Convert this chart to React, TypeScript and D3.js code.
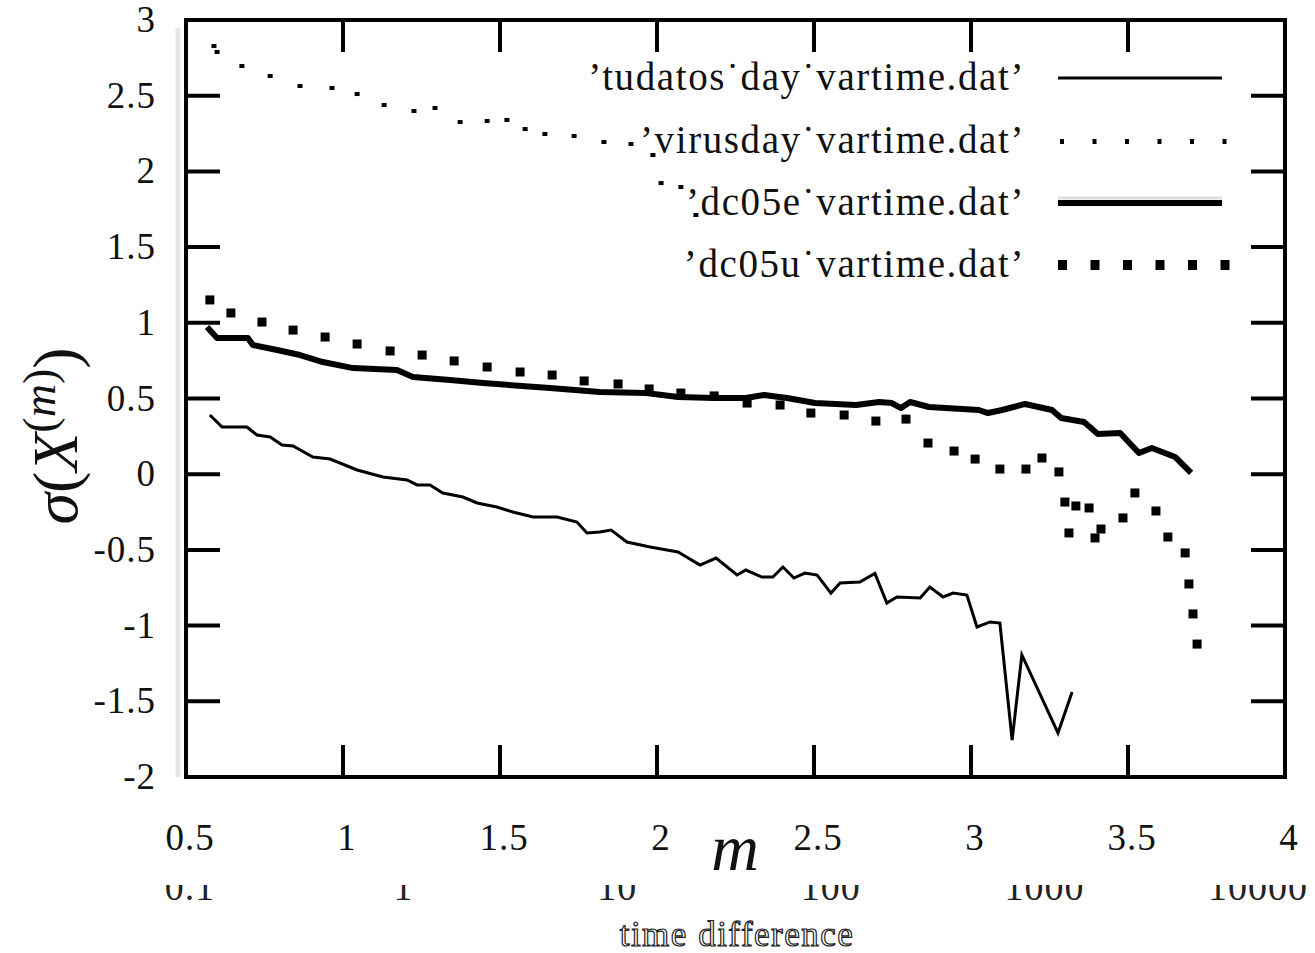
import * as d3 from 'd3';

// series values: [log10 m, sigma]
const tudatos: [number, number][] = [
  [0.576, 0.391], [0.615, 0.312], [0.694, 0.312], [0.726, 0.259], [0.768, 0.246],
  [0.806, 0.193], [0.841, 0.186], [0.904, 0.114], [0.959, 0.1], [1.045, 0.028],
  [1.127, -0.018], [1.204, -0.038], [1.236, -0.071], [1.277, -0.071], [1.318, -0.124],
  [1.382, -0.151], [1.427, -0.19], [1.49, -0.217], [1.541, -0.25], [1.605, -0.283],
  [1.682, -0.283], [1.745, -0.316], [1.777, -0.388], [1.818, -0.382], [1.854, -0.369],
  [1.904, -0.448], [1.978, -0.481], [2.067, -0.514], [2.137, -0.6], [2.188, -0.554],
  [2.255, -0.666], [2.283, -0.633], [2.334, -0.679], [2.369, -0.679], [2.401, -0.613],
  [2.436, -0.686], [2.471, -0.653], [2.51, -0.666], [2.554, -0.785], [2.583, -0.719],
  [2.646, -0.712], [2.694, -0.655], [2.732, -0.851], [2.764, -0.811], [2.838, -0.818],
  [2.869, -0.745], [2.911, -0.811], [2.943, -0.785], [2.987, -0.798], [3.019, -1.009],
  [3.061, -0.976], [3.092, -0.983], [3.131, -1.756], [3.162, -1.194], [3.277, -1.709],
  [3.322, -1.439],
];

const virusday: [number, number][] = [
  [0.589, 2.828], [0.599, 2.789], [0.678, 2.696], [0.768, 2.63], [0.863, 2.564],
  [0.965, 2.551], [1.045, 2.511], [1.131, 2.439], [1.226, 2.399], [1.293, 2.419],
  [1.373, 2.326], [1.459, 2.333], [1.522, 2.34], [1.58, 2.28], [1.643, 2.247],
  [1.736, 2.234], [1.831, 2.194], [1.917, 2.181], [1.987, 2.108], [2.013, 1.923],
  [2.076, 1.897], [2.124, 1.712],
];

const dc05e: [number, number][] = [
  [0.567, 0.972], [0.599, 0.9], [0.697, 0.9], [0.713, 0.853], [0.79, 0.82],
  [0.863, 0.787], [0.936, 0.741], [1.032, 0.701], [1.172, 0.688], [1.223, 0.642],
  [1.341, 0.622], [1.446, 0.602], [1.659, 0.569], [1.818, 0.543], [1.965, 0.536],
  [2.067, 0.51], [2.182, 0.503], [2.283, 0.503], [2.341, 0.523], [2.414, 0.503],
  [2.503, 0.47], [2.634, 0.457], [2.707, 0.477], [2.748, 0.47], [2.777, 0.437],
  [2.806, 0.477], [2.866, 0.444], [3.025, 0.424], [3.054, 0.404], [3.099, 0.424],
  [3.172, 0.464], [3.258, 0.424], [3.287, 0.371], [3.36, 0.345], [3.404, 0.266],
  [3.475, 0.272], [3.535, 0.14], [3.576, 0.173], [3.65, 0.114], [3.701, 0.008],
];

const dc05u: [number, number][] = [
  [0.576, 1.151], [0.643, 1.065], [0.742, 1.005], [0.841, 0.952], [0.943, 0.906],
  [1.045, 0.86], [1.15, 0.814], [1.252, 0.787], [1.354, 0.748], [1.459, 0.708],
  [1.564, 0.675], [1.666, 0.655], [1.768, 0.616], [1.876, 0.596], [1.975, 0.563],
  [2.076, 0.536], [2.182, 0.517], [2.287, 0.47], [2.392, 0.457], [2.49, 0.404],
  [2.596, 0.391], [2.697, 0.351], [2.793, 0.364], [2.863, 0.206], [2.946, 0.153],
  [3.013, 0.1], [3.092, 0.034], [3.175, 0.034], [3.226, 0.107], [3.28, 0.015],
  [3.299, -0.184], [3.334, -0.21], [3.376, -0.223], [3.312, -0.388], [3.395, -0.421],
  [3.414, -0.362], [3.484, -0.289], [3.522, -0.124], [3.589, -0.243], [3.627, -0.415],
  [3.682, -0.52], [3.694, -0.725], [3.707, -0.923], [3.72, -1.122],
];

const xTicks = [0.5, 1, 1.5, 2, 2.5, 3, 3.5, 4];
const yTicks = [-2, -1.5, -1, -0.5, 0, 0.5, 1, 1.5, 2, 2.5, 3];
const ghostTicks = [0.1, 1, 10, 100, 1000, 10000];
const legendNames = [
  '\u2019tudatos\u02D9day\u02D9vartime.dat\u2019',
  '\u2019virusday\u02D9vartime.dat\u2019',
  '\u2019dc05e\u02D9vartime.dat\u2019',
  '\u2019dc05u\u02D9vartime.dat\u2019',
];

const W = 1315;
const H = 953;
const left = 186, right = 1285, top = 20, bottom = 777;
const font = '"Liberation Serif", "DejaVu Serif", serif';

const App = () => {
  const x = d3.scaleLinear().domain([0.5, 4]).range([left, right]);
  const y = d3.scaleLinear().domain([-2, 3]).range([bottom, top]);
  const ghost = d3.scaleLog().domain([0.1, 10000]).range([190, 1258]);
  const line = d3.line<[number, number]>().x((d) => x(d[0])).y((d) => y(d[1]));

  const fmt = (v: number) => String(v);
  const legX0 = 1058, legX1 = 1222, legTextX = 1025;
  const legY = [78, 141, 203, 265];
  const legDots = d3.range(6).map((i) => legX0 + 4 + i * 32.5);

  return (
    <svg width={W} height={H} style={{ position: 'absolute', left: 0, top: 0, background: '#fff' }}>
      <defs>
        <clipPath id="ghostClip">
          <rect x={0} y={885} width={W} height={20} />
        </clipPath>
      </defs>

      {/* faint shadow left of the frame */}
      <line x1={178} x2={178} y1={28} y2={bottom} stroke="#e6e6e6" strokeWidth={5} />

      {/* ticks, inward on all four sides */}
      {yTicks.map((t) => (
        <g key={'y' + t}>
          <line x1={left} x2={left + 34} y1={y(t)} y2={y(t)} stroke="#000" strokeWidth={4} />
          <line x1={right - 34} x2={right} y1={y(t)} y2={y(t)} stroke="#000" strokeWidth={4} />
          <text x={156} y={y(t) + 12} textAnchor="end" fontFamily={font} fontSize={37}
            letterSpacing={1} fill="#111">{fmt(t)}</text>
        </g>
      ))}
      {xTicks.map((t) => (
        <g key={'x' + t}>
          <line x1={x(t)} x2={x(t)} y1={bottom} y2={bottom - 32} stroke="#000" strokeWidth={4} />
          <line x1={x(t)} x2={x(t)} y1={top} y2={top + 32} stroke="#000" strokeWidth={4} />
          <text x={x(t) + 4} y={850} textAnchor="middle" fontFamily={font} fontSize={37}
            letterSpacing={1} fill="#111">{fmt(t)}</text>
        </g>
      ))}

      {/* data */}
      <path d={line(tudatos) ?? ''} fill="none" stroke="#000" strokeWidth={3} strokeLinejoin="miter" />
      <path d={line(dc05e) ?? ''} fill="none" stroke="#000" strokeWidth={6} strokeLinejoin="round" />
      {virusday.map((d, i) => (
        <rect key={'v' + i} x={x(d[0]) - 2.5} y={y(d[1]) - 2} width={5} height={4} fill="#000" />
      ))}
      {dc05u.map((d, i) => (
        <rect key={'u' + i} x={x(d[0]) - 4.5} y={y(d[1]) - 4.5} width={9} height={9} fill="#000" />
      ))}

      {/* legend */}
      {legendNames.map((name, i) => (
        <text key={name} x={legTextX} y={legY[i] + 12} textAnchor="end" fontFamily={font}
          fontSize={39} letterSpacing={1.6} fill="#111">{name}</text>
      ))}
      <line x1={legX0} x2={legX1} y1={legY[0]} y2={legY[0]} stroke="#000" strokeWidth={3} />
      {legDots.map((lx) => (
        <rect key={'lv' + lx} x={lx - 2} y={legY[1] - 2} width={4} height={5} fill="#000" />
      ))}
      <line x1={legX0} x2={legX1} y1={legY[2] - 5} y2={legY[2] - 5} stroke="#ddd" strokeWidth={3} />
      <line x1={legX0} x2={legX1} y1={legY[2]} y2={legY[2]} stroke="#000" strokeWidth={6} />
      {legDots.map((lx) => (
        <rect key={'lu' + lx} x={lx - 4} y={legY[3] - 5} width={9} height={10} fill="#000" />
      ))}

      {/* frame */}
      <rect x={left} y={top} width={right - left} height={bottom - top} fill="none" stroke="#000" strokeWidth={4} />

      {/* axis titles */}
      <text x={735} y={870} textAnchor="middle" fontFamily={font} fontStyle="italic" fontSize={66} fill="#111">m</text>
      <text transform="translate(77,436) rotate(-90)" textAnchor="middle" fontFamily={font} fontSize={64} fill="#111">
        <tspan fontStyle="italic">{'\u03C3'}</tspan>
        <tspan>(</tspan>
        <tspan fontStyle="italic">X</tspan>
        <tspan fontSize={46} dy={-22}>(</tspan>
        <tspan fontSize={46} fontStyle="italic">m</tspan>
        <tspan fontSize={46}>)</tspan>
        <tspan dy={22}>)</tspan>
      </text>

      {/* half-visible labels from an underlying figure */}
      <g clipPath="url(#ghostClip)">
        {ghostTicks.map((t) => (
          <text key={'g' + t} x={ghost(t)} y={900} textAnchor="middle" fontFamily={font} fontSize={38}
            letterSpacing={1} fill="#222">{String(t)}</text>
        ))}
      </g>
      <text x={737} y={946} textAnchor="middle" fontFamily={font} fontSize={35} letterSpacing={1.5}
        fill="#fff" stroke="#222" strokeWidth={1.2}>time difference</text>
    </svg>
  );
};

export default App;
